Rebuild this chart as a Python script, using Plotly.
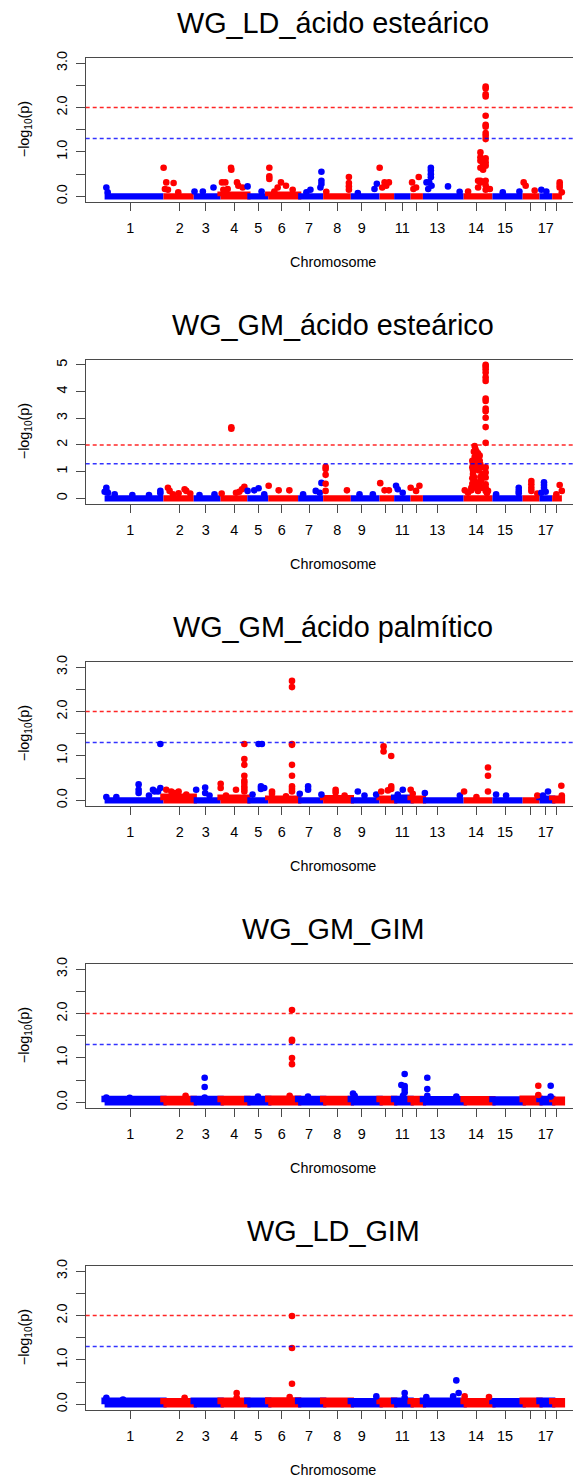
import numpy as np
import plotly.graph_objects as go

# ---------------- data ----------------
chrom_names = [str(i) for i in range(1, 19)]
chrom_len = [315, 162, 144, 143, 112, 160, 134, 148, 154, 78, 88, 66, 218, 154, 162, 90, 68, 52]   # Mb
chrom_mid = [137.8, 86.9, 64.0, 73.5, 59.0, 71.9, 58.2, 75.9, 58.2, 32.6, 43.9, 29.0,
             77.2, 66.2, 67.5, 42.9, 33.2, 25.8]                                                 # Mb within chromosome
tick_text = ["1", "2", "3", "4", "5", "6", "7", "8", "9", "", "11", "", "13", "14", "15", "", "17", ""]

suggestive = 1.30103   # -log10(0.05)
genomewide = 2.0       # -log10(0.01)

titles = ["WG_LD_ácido esteárico", "WG_GM_ácido esteárico", "WG_GM_ácido palmítico",
          "WG_GM_GIM", "WG_LD_GIM"]
y_max = [3.0, 5.0, 3.0, 3.0, 3.0]

# (chromosome, position in chromosome [Mb], -log10(p)) for SNPs standing out of the dense baseline
ld_estearico = [
    (1, 9.3, 0.20), (1, 16.4, 0.09),
    (2, 0.9, 0.645), (2, 15.2, 0.315), (2, 54.4, 0.30), (2, 8.0, 0.165), (2, 24.1, 0.15), (2, 79.4, 0.09),
    (3, 4.3, 0.11), (3, 48.9, 0.11), (3, 106.0, 0.20),
    (4, 7.5, 0.315), (4, 25.3, 0.315), (4, 55.7, 0.645), (4, 57.4, 0.60), (4, 87.8, 0.315), (4, 94.9, 0.24),
    (4, 118.0, 0.20), (4, 37.8, 0.165), (4, 14.6, 0.15),
    (5, 1.4, 0.225), (5, 76.3, 0.11),
    (6, 5.9, 0.645), (6, 5.9, 0.45), (6, 5.9, 0.39), (6, 68.3, 0.315), (6, 95.1, 0.24), (6, 130.8, 0.15),
    (6, 32.6, 0.11), (6, 50.4, 0.20),
    (7, 65.8, 0.15), (7, 124.7, 0.555), (7, 124.7, 0.35), (7, 124.7, 0.28), (7, 119.4, 0.20), (7, 44.4, 0.09),
    (8, 137.8, 0.435), (8, 137.8, 0.30), (8, 137.8, 0.225), (8, 137.8, 0.15), (8, 16.8, 0.105),
    (9, 37.6, 0.075), (9, 139.3, 0.285), (9, 126.8, 0.165),
    (10, 0.5, 0.645), (10, 26.8, 0.315), (10, 50.0, 0.315), (10, 14.3, 0.20), (10, 35.7, 0.24),
    (12, 8.0, 0.315), (12, 43.7, 0.435), (12, 29.4, 0.20), (12, 15.2, 0.165),
    (13, 42.6, 0.645), (13, 42.6, 0.58), (13, 42.6, 0.50), (13, 42.6, 0.43), (13, 33.7, 0.315),
    (13, 19.4, 0.315), (13, 46.2, 0.24), (13, 28.4, 0.165), (13, 134.3, 0.225), (13, 196.7, 0.105),
    (14, 117.9, 2.475), (14, 117.9, 2.43), (14, 117.9, 2.30), (14, 117.9, 2.25), (14, 117.9, 1.815),
    (14, 117.9, 1.61), (14, 117.9, 1.57), (14, 117.9, 1.425), (14, 117.9, 1.365), (14, 117.9, 1.29),
    (14, 117.9, 0.855), (14, 117.9, 0.765), (14, 117.9, 0.69), (14, 117.9, 0.35), (14, 117.9, 0.25),
    (14, 117.9, 0.15),
    (14, 89.9, 0.99), (14, 89.9, 0.88), (14, 89.9, 0.80), (14, 89.9, 0.645), (14, 89.9, 0.35),
    (14, 89.9, 0.31), (14, 77.4, 0.35), (14, 77.4, 0.20), (14, 104.2, 0.70), (14, 104.2, 0.60),
    (14, 140.3, 0.165), (14, 23.9, 0.11),
    (15, 144.7, 0.11), (15, 55.5, 0.09),
    (16, 5.4, 0.315), (16, 16.1, 0.24), (16, 64.3, 0.13),
    (17, 10.0, 0.15), (17, 36.8, 0.11),
    (18, 40.2, 0.315), (18, 40.2, 0.255), (18, 40.2, 0.20), (18, 51.5, 0.09),
]

gm_estearico = [
    (1, 9.3, 0.40), (1, 9.3, 0.28), (1, 0.4, 0.25), (1, 18.2, 0.21), (1, 54.0, 0.15), (1, 148.5, 0.126),
    (1, 237.7, 0.126), (1, 298.4, 0.28), (1, 298.4, 0.19),
    (2, 24.1, 0.40), (2, 33.0, 0.28), (2, 81.2, 0.19), (2, 113.3, 0.34), (2, 122.2, 0.28), (2, 143.6, 0.18),
    (2, 50.8, 0.15),
    (3, 111.3, 0.15), (3, 31.0, 0.126),
    (4, 5.7, 0.18), (4, 57.4, 2.66), (4, 57.4, 2.61), (4, 82.4, 0.21), (4, 100.3, 0.25), (4, 127.0, 0.43),
    (4, 114.5, 0.34),
    (5, 1.4, 0.28), (5, 37.1, 0.30), (5, 60.3, 0.38), (5, 90.6, 0.15),
    (6, 2.3, 0.47), (6, 55.9, 0.30), (6, 113.0, 0.30),
    (7, 26.6, 0.15), (7, 94.3, 0.28), (7, 124.7, 0.58), (7, 115.8, 0.21),
    (8, 13.2, 1.18), (8, 13.2, 1.10), (8, 13.2, 0.88), (8, 13.2, 0.55), (8, 13.2, 0.28), (8, 127.4, 0.30),
    (9, 46.6, 0.15), (9, 118.0, 0.15),
    (10, 3.6, 0.57), (10, 26.8, 0.30), (10, 50.0, 0.30),
    (11, 10.2, 0.47), (11, 19.1, 0.34), (11, 45.8, 0.21),
    (12, 0.5, 0.40), (12, 47.3, 0.47), (12, 29.4, 0.28),
    (14, 6.1, 0.30),
    (14, 59.1, 1.96), (14, 62.6, 1.85), (14, 68.0, 1.76), (14, 76.9, 1.69), (14, 85.8, 1.60), (14, 89.4, 1.28),
    (14, 46.6, 1.41), (14, 46.6, 1.16), (14, 50.1, 0.91), (14, 59.1, 0.65), (14, 76.9, 0.59), (14, 94.7, 0.68),
    (14, 100.1, 0.91), (14, 94.7, 1.16), (14, 85.8, 1.41), (14, 68.0, 1.41), (14, 71.5, 1.10), (14, 64.4, 0.40),
    (14, 41.2, 0.40), (14, 76.9, 0.28), (14, 103.6, 0.40), (14, 23.4, 0.21), (14, 50.1, 1.30), (14, 50.1, 1.05),
    (14, 55.0, 0.80), (14, 59.1, 0.50), (14, 68.0, 0.45), (14, 85.8, 0.55), (14, 94.7, 0.40), (14, 89.4, 0.80),
    (14, 80.0, 1.05), (14, 62.6, 1.20), (14, 59.1, 1.55), (14, 55.0, 1.75), (14, 46.6, 0.75), (14, 46.6, 0.55),
    (14, 41.2, 0.30),
    (14, 117.9, 5.00), (14, 117.9, 4.94), (14, 117.9, 4.84), (14, 117.9, 4.71), (14, 117.9, 4.53),
    (14, 117.9, 4.40), (14, 117.9, 3.74), (14, 117.9, 3.65), (14, 117.9, 3.36), (14, 117.9, 3.26),
    (14, 117.9, 3.02), (14, 117.9, 2.67), (14, 117.9, 2.08), (14, 117.9, 1.16), (14, 117.9, 0.97),
    (14, 117.9, 0.78), (14, 117.9, 0.53), (14, 117.9, 0.40), (14, 117.9, 0.28),
    (14, 130.4, 0.28), (14, 125.0, 0.20),
    (15, 19.8, 0.15), (15, 141.1, 0.40), (15, 141.1, 0.28), (15, 141.1, 0.19),
    (16, 46.4, 0.65), (16, 46.4, 0.53), (16, 46.4, 0.40), (16, 46.4, 0.28), (16, 78.5, 0.18),
    (17, 24.3, 0.60), (17, 24.3, 0.50), (17, 24.3, 0.40), (17, 33.2, 0.25), (17, 10.0, 0.21),
    (18, 40.2, 0.50), (18, 51.5, 0.28), (18, 22.3, 0.15),
]

gm_palmitico = [
    (1, 9.3, 0.075), (1, 62.8, 0.075), (1, 182.2, 0.36), (1, 182.2, 0.24), (1, 182.2, 0.165), (1, 237.6, 0.11),
    (1, 259.0, 0.24), (1, 267.9, 0.20), (1, 298.4, 1.27), (1, 298.4, 0.28), (1, 286.0, 0.20),
    (2, 15.2, 0.24), (2, 41.9, 0.20), (2, 81.2, 0.20), (2, 122.2, 0.13), (2, 59.8, 0.165),
    (3, 13.2, 0.24), (3, 61.3, 0.29), (3, 61.3, 0.165), (3, 84.6, 0.11),
    (4, 0.4, 0.375), (4, 0.4, 0.28), (4, 28.9, 0.11), (4, 82.4, 0.24),
    (4, 127.0, 1.27), (4, 127.0, 0.93), (4, 127.0, 0.80), (4, 127.0, 0.555), (4, 127.0, 0.44),
    (4, 127.0, 0.39), (4, 127.0, 0.315), (4, 127.0, 0.255), (4, 127.0, 0.20),
    (5, 60.3, 1.27), (5, 78.2, 1.27), (5, 72.9, 0.315), (5, 72.9, 0.255), (5, 90.6, 0.28), (5, 28.2, 0.13),
    (6, 20.2, 0.20), (6, 20.2, 0.15), (6, 95.1, 0.09),
    (6, 127.2, 2.69), (6, 127.2, 2.55), (6, 127.2, 1.27), (6, 127.2, 1.25), (6, 127.2, 0.80),
    (6, 127.2, 0.555), (6, 127.2, 0.315), (6, 127.2, 0.255), (6, 127.2, 0.20),
    (7, 53.4, 0.315), (7, 53.4, 0.24), (7, 8.7, 0.15), (7, 124.7, 0.13),
    (8, 66.7, 0.24), (8, 66.7, 0.18), (8, 114.8, 0.11),
    (9, 37.6, 0.20), (9, 73.3, 0.11), (9, 135.7, 0.13),
    (10, 21.4, 1.215), (10, 21.4, 1.10), (10, 62.4, 1.00), (10, 62.4, 0.315), (10, 62.4, 0.255),
    (10, 8.9, 0.20), (10, 44.6, 0.225),
    (11, 46.2, 0.24), (11, 19.1, 0.13),
    (12, 0.5, 0.24), (12, 11.6, 0.15),
    (13, 10.5, 0.165), (13, 197.8, 0.11),
    (14, 2.5, 0.20), (14, 130.4, 0.74), (14, 130.4, 0.555), (14, 130.4, 0.20), (14, 68.5, 0.075),
    (15, 19.8, 0.13), (15, 73.4, 0.11),
    (16, 78.5, 0.11),
    (17, 45.7, 0.20), (17, 19.0, 0.11),
    (18, 49.1, 0.33), (18, 51.5, 0.11),
]

gm_gim = [
    (1, 9.3, 0.11), (1, 134.2, 0.105),
    (2, 118.6, 0.15),
    (3, 58.7, 0.555), (3, 58.7, 0.345), (3, 58.7, 0.11),
    (5, 57.1, 0.13),
    (6, 127.2, 2.08), (6, 127.2, 1.41), (6, 127.2, 1.38), (6, 127.2, 1.00), (6, 127.2, 0.86), (6, 114.7, 0.15),
    (7, 52.8, 0.13),
    (9, 11.8, 0.20), (9, 20.7, 0.15),
    (11, 56.4, 0.64), (11, 56.4, 0.37), (11, 56.4, 0.30), (11, 56.4, 0.225), (11, 38.5, 0.39), (11, 47.5, 0.15),
    (13, 23.5, 0.555), (13, 23.5, 0.30), (13, 23.5, 0.15), (13, 178.8, 0.13),
    (16, 83.8, 0.375), (16, 83.8, 0.165),
    (17, 60.0, 0.375), (17, 60.0, 0.13),
]

ld_gim = [
    (1, 9.3, 0.15), (1, 98.5, 0.11),
    (2, 113.3, 0.15),
    (4, 86.0, 0.255), (4, 86.0, 0.15),
    (6, 127.2, 1.99), (6, 127.2, 1.27), (6, 127.2, 0.465), (6, 114.7, 0.165),
    (9, 136.6, 0.18),
    (11, 56.4, 0.255), (11, 56.4, 0.15),
    (13, 178.8, 0.54), (13, 191.3, 0.255), (13, 161.7, 0.18), (13, 18.2, 0.165),
    (14, 5.5, 0.18), (14, 135.8, 0.165),
]

# upper edge (-log10 p) of the dense cloud of non-significant SNPs, per chromosome
band_ld_estearico = [0.02, 0.03, 0.02, 0.04, 0.02, 0.04, 0.02, 0.02, 0.02, 0.03, 0.02, 0.03, 0.02, 0.03, 0.02, 0.03, 0.02, 0.03]
band_gm_estearico = [0.03, 0.04, 0.02, 0.03, 0.03, 0.03, 0.02, 0.02, 0.02, 0.03, 0.03, 0.03, 0.02, 0.05, 0.02, 0.03, 0.03, 0.03]
band_gm_palmitico = [0.03, 0.08, 0.03, 0.06, 0.03, 0.04, 0.03, 0.05, 0.03, 0.04, 0.06, 0.04, 0.02, 0.03, 0.03, 0.03, 0.04, 0.04]
band_gm_gim       = [0.075, 0.075, 0.075, 0.075, 0.075, 0.08, 0.075, 0.075, 0.075, 0.075, 0.075, 0.075, 0.07, 0.07, 0.065, 0.08, 0.075, 0.06]
band_ld_gim       = [0.08, 0.07, 0.08, 0.08, 0.08, 0.09, 0.08, 0.08, 0.07, 0.08, 0.08, 0.07, 0.08, 0.07, 0.07, 0.08, 0.08, 0.07]

panels = [
    (titles[0], ld_estearico, band_ld_estearico),
    (titles[1], gm_estearico, band_gm_estearico),
    (titles[2], gm_palmitico, band_gm_palmitico),
    (titles[3], gm_gim, band_gm_gim),
    (titles[4], ld_gim, band_ld_gim),
]

# ---------------- layout geometry ----------------
W, H = 573, 1478
FONT = "Liberation Sans, Arial, Helvetica, sans-serif"
BLUE, RED = "#0000ff", "#ff0000"
AXC = "#4a4a4a"
box_left = 85.7
top0, pitch, box_h = 57.8, 302.0, 143.9
k_px = 0.1868              # px per Mb
x0_px = 104.6              # pixel of genome position 0
x_lo = (box_left - x0_px) / k_px
x_hi = (W - x0_px) / k_px

chrom_start = np.concatenate([[0.0], np.cumsum(chrom_len)[:-1]])
tick_pos = chrom_start + np.array(chrom_mid)
chrom_color = [BLUE if i % 2 == 0 else RED for i in range(18)]

fig = go.Figure()
layout = dict(width=W, height=H, margin=dict(l=0, r=0, t=0, b=0, autoexpand=False),
              template="none",
              paper_bgcolor="white", plot_bgcolor="white", showlegend=False,
              font=dict(family=FONT, color="black"))
shapes, annotations = [], []

for i, (title, hits, band) in enumerate(panels):
    n = "" if i == 0 else str(i + 1)
    xa, ya = "x" + n, "y" + n
    top = top0 + i * pitch
    bot = top + box_h

    # dense baseline cloud, one block per chromosome
    for c in range(18):
        s = chrom_start[c]
        e = chrom_start[c] + chrom_len[c]
        fig.add_trace(go.Scatter(
            x=[s, e, e, s, s], y=[0, 0, band[c], band[c], 0], xaxis=xa, yaxis=ya,
            mode="lines", fill="toself", fillcolor=chrom_color[c],
            line=dict(color=chrom_color[c], width=6.4), hoverinfo="skip"))

    # stand-out SNPs
    hc = np.array([h[0] for h in hits]) - 1
    hx = chrom_start[hc] + np.array([h[1] for h in hits])
    hy = np.array([h[2] for h in hits])
    fig.add_trace(go.Scatter(
        x=hx, y=hy, xaxis=xa, yaxis=ya, mode="markers",
        marker=dict(size=6.6, color=[chrom_color[c] for c in hc], line=dict(width=0)),
        hoverinfo="skip"))

    ymax = y_max[i]
    if ymax == 5.0:
        yr = [-0.2, 5.19]
        tv = [0, 1, 2, 3, 4, 5]
        tt = ["0", "1", "2", "3", "4", "5"]
    else:
        yr = [-0.12, 3.12]
        tv = [0, 0.5, 1, 1.5, 2, 2.5, 3]
        tt = ["0.0", "", "1.0", "", "2.0", "", "3.0"]

    layout["xaxis" + n] = dict(
        domain=[box_left / W, 1], range=[x_lo, x_hi], anchor=ya, automargin=False,
        tickmode="array", tickvals=list(tick_pos), ticktext=tick_text,
        ticks="outside", ticklen=8.5, tickwidth=1.2, tickcolor=AXC,
        showline=True, mirror=True, linecolor=AXC, linewidth=1.4,
        showgrid=False, zeroline=False, fixedrange=True,
        tickfont=dict(size=14.4, family=FONT, color="black"), ticklabelstandoff=4)
    layout["yaxis" + n] = dict(
        domain=[1 - bot / H, 1 - top / H], range=yr, anchor=xa, automargin=False,
        tickmode="array", tickvals=tv, ticktext=tt, tickangle=-90,
        ticks="outside", ticklen=8.5, tickwidth=1.2, tickcolor=AXC,
        showline=True, linecolor=AXC, linewidth=1.4,
        showgrid=False, zeroline=False, fixedrange=True,
        tickfont=dict(size=14.4, family=FONT, color="black"), ticklabelstandoff=3)

    for val, col in [(genomewide, "rgba(255,0,0,0.85)"), (suggestive, "rgba(0,0,255,0.8)")]:
        shapes.append(dict(type="line", xref=xa + " domain", yref=ya, x0=0, x1=1, y0=val, y1=val,
                           line=dict(color=col, width=1.5, dash="4px,3px"), layer="above"))

    xc = (box_left + 581.0) / 2 / W
    annotations.append(dict(text=title, xref="paper", yref="paper", x=xc, y=1 - (top - 35) / H,
                            xanchor="center", yanchor="middle", showarrow=False,
                            font=dict(size=28.8, family=FONT, color="black")))
    annotations.append(dict(text="Chromosome", xref="paper", yref="paper", x=xc, y=1 - (bot + 60) / H,
                            xanchor="center", yanchor="middle", showarrow=False,
                            font=dict(size=14.4, family=FONT, color="black")))
    annotations.append(dict(text="\u2212log<sub>10</sub>(p)", xref="paper", yref="paper",
                            x=24.5 / W, y=1 - (top + box_h / 2) / H, textangle=-90,
                            xanchor="center", yanchor="middle", showarrow=False,
                            font=dict(size=14.4, family=FONT, color="black")))

layout["shapes"] = shapes
layout["annotations"] = annotations
fig.update_layout(**layout)
fig.write_html("out.html", config={"displayModeBar": False},
               post_script="document.body.style.margin='0px';document.body.style.overflow='hidden';")
